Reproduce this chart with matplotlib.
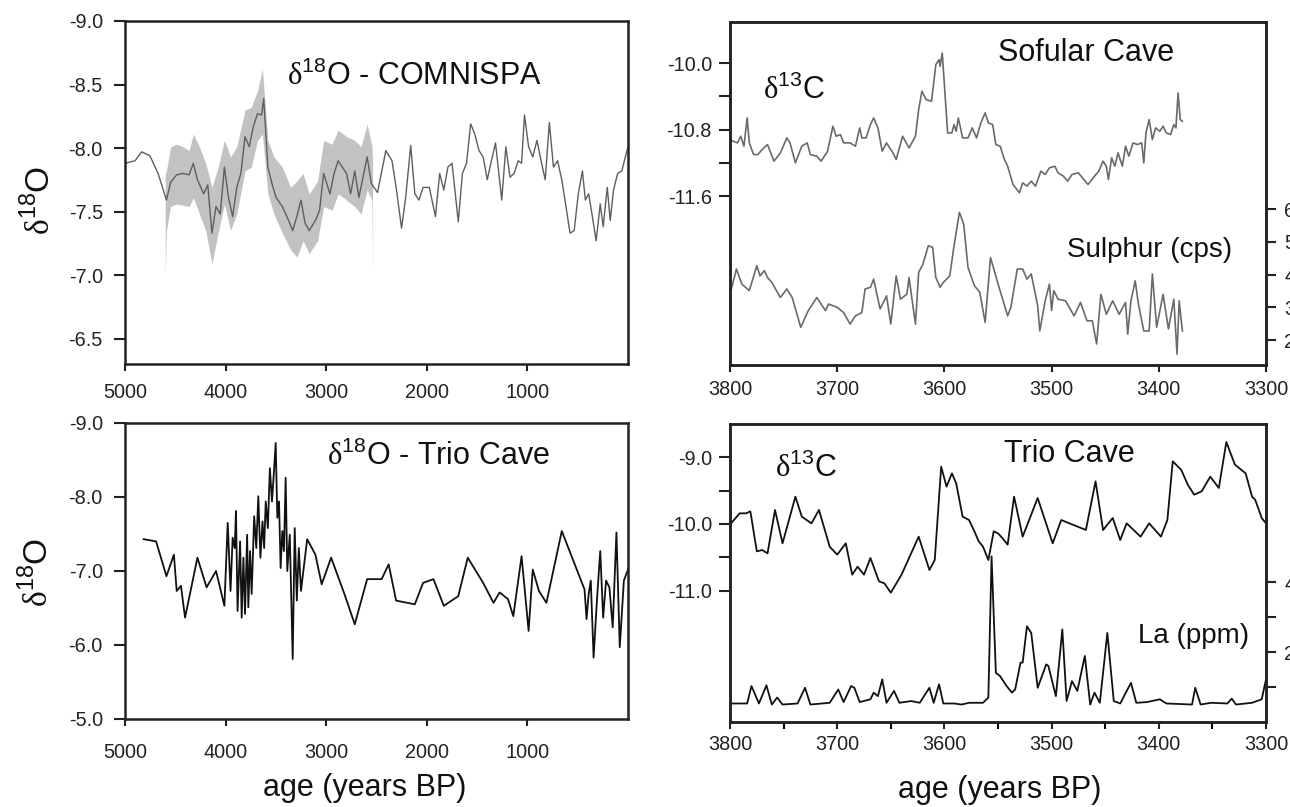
import numpy as np
import matplotlib.pyplot as plt

plt.rcParams['font.family'] = ['Liberation Sans', 'DejaVu Sans']
plt.rcParams['mathtext.fontset'] = 'custom'
plt.rcParams['mathtext.rm'] = 'Liberation Serif'
plt.rcParams['mathtext.sf'] = 'Liberation Sans'
plt.rcParams['axes.unicode_minus'] = False

# --- COMNISPA d18O (gray line) ---
com_age = [5000, 4900, 4835, 4753, 4671, 4588, 4547, 4486, 4424, 4362, 4321, 4280, 4218, 4177,
           4136, 4095, 4053, 4012, 3971, 3930, 3889, 3848, 3807, 3765, 3724, 3683, 3642,
           3621, 3580, 3539, 3498, 3436, 3374, 3333, 3292, 3251, 3210, 3169, 3107, 3066,
           3025, 2963, 2922, 2881, 2840, 2798, 2757, 2716, 2675, 2634, 2593, 2551, 2490,
           2407, 2346, 2305, 2251, 2210, 2160, 2119, 2078, 2037, 1975, 1914, 1872, 1831,
           1790, 1749, 1687, 1646, 1605, 1564, 1523, 1481, 1440, 1399, 1358, 1317, 1255,
           1214, 1173, 1132, 1091, 1058, 1029, 988, 947, 905, 864, 823, 782, 741, 700,
           658, 617, 576, 535, 494, 453, 424, 391, 358, 317, 276, 247, 206, 177, 144,
           103, 62, 0]
com_d18o = [-7.88, -7.90, -7.97, -7.94, -7.80, -7.59, -7.73, -7.79, -7.80, -7.79, -7.88, -7.75,
            -7.64, -7.71, -7.33, -7.54, -7.48, -7.85, -7.61, -7.46, -7.69, -7.80, -8.09,
            -8.01, -8.17, -8.27, -8.26, -8.39, -7.85, -7.72, -7.61, -7.54, -7.43, -7.35,
            -7.46, -7.59, -7.41, -7.35, -7.43, -7.51, -7.80, -7.64, -7.80, -7.90, -7.85,
            -7.80, -7.64, -7.82, -7.61, -7.77, -7.93, -7.72, -7.65, -7.98, -7.90, -7.69,
            -7.37, -7.61, -8.02, -7.64, -7.59, -7.69, -7.69, -7.46, -7.80, -7.67, -7.85,
            -7.88, -7.42, -7.80, -7.88, -8.19, -8.11, -7.98, -7.93, -7.75, -7.90, -8.04,
            -7.59, -8.01, -7.77, -7.80, -7.90, -7.88, -8.26, -8.01, -7.93, -8.06, -7.90,
            -7.75, -8.20, -7.85, -7.90, -7.75, -7.54, -7.33, -7.35, -7.64, -7.82, -7.59,
            -7.64, -7.48, -7.27, -7.56, -7.38, -7.69, -7.43, -7.67, -7.80, -7.82, -8.01]

# uncertainty envelope of COMNISPA
band_age = [4600, 4588, 4547, 4486, 4424, 4362, 4321, 4259, 4198, 4136, 4074, 4012, 3951,
            3889, 3807, 3745, 3683, 3634, 3580, 3519, 3436, 3354, 3292, 3230, 3169, 3086,
            3025, 2942, 2881, 2798, 2716, 2654, 2593, 2545, 2539]
band_hi = [-7.80, -7.82, -8.01, -8.03, -8.01, -7.98, -8.11, -8.01, -7.88, -7.69, -7.85,
           -8.06, -7.93, -8.01, -8.30, -8.32, -8.45, -8.62, -8.06, -7.93, -7.85, -7.69,
           -7.74, -7.80, -7.64, -7.74, -8.06, -8.03, -8.14, -8.09, -8.06, -8.01, -8.19,
           -8.01, -7.90]
band_lo = [-7.00, -7.35, -7.54, -7.56, -7.55, -7.54, -7.61, -7.48, -7.35, -7.09, -7.33,
           -7.56, -7.35, -7.48, -7.82, -7.85, -8.06, -8.11, -7.64, -7.48, -7.33, -7.20,
           -7.14, -7.27, -7.17, -7.27, -7.54, -7.51, -7.64, -7.59, -7.54, -7.48, -7.67,
           -7.59, -7.00]

# --- Sofular Cave d13C and Sulphur ---
sof_age = [3800, 3797, 3793, 3790, 3787, 3784, 3782, 3778, 3774, 3770, 3765, 3759, 3753,
           3747, 3744, 3739, 3733, 3728, 3725, 3719, 3715, 3709, 3704, 3701, 3697, 3694,
           3688, 3683, 3679, 3677, 3673, 3669, 3666, 3662, 3658, 3654, 3648, 3645, 3639,
           3633, 3627, 3624, 3621, 3617, 3612, 3608, 3605, 3604, 3602, 3600, 3597, 3593,
           3591, 3589, 3587, 3583, 3578, 3574, 3570, 3566, 3562, 3559, 3555, 3552, 3548,
           3544, 3541, 3536, 3530, 3527, 3523, 3519, 3515, 3510, 3506, 3502, 3497, 3494,
           3489, 3485, 3481, 3475, 3470, 3466, 3460, 3456, 3452, 3449, 3447, 3444, 3441,
           3438, 3434, 3431, 3428, 3424, 3420, 3416, 3414, 3412, 3409, 3406, 3403, 3399,
           3396, 3393, 3389, 3386, 3384, 3382, 3380, 3378]
sof_d13c = [-10.92, -10.94, -10.96, -10.88, -11.00, -10.66, -10.96, -11.10, -11.10, -11.04,
            -10.98, -11.18, -11.08, -10.90, -10.96, -11.20, -11.00, -10.96, -11.10, -11.12,
            -11.18, -11.06, -10.76, -10.88, -10.86, -10.96, -10.96, -11.00, -10.78, -10.90,
            -10.90, -10.74, -10.66, -10.78, -11.06, -10.96, -11.08, -11.16, -10.88, -11.02,
            -10.88, -10.56, -10.34, -10.44, -10.46, -10.02, -9.96, -10.04, -9.88, -10.26,
            -10.84, -10.84, -10.74, -10.82, -10.66, -10.90, -10.90, -10.78, -10.90, -10.72,
            -10.60, -10.72, -10.74, -10.98, -11.00, -11.16, -11.24, -11.46, -11.56, -11.44,
            -11.48, -11.42, -11.48, -11.30, -11.34, -11.26, -11.24, -11.32, -11.36, -11.42,
            -11.34, -11.32, -11.40, -11.46, -11.36, -11.30, -11.18, -11.24, -11.40, -11.14,
            -11.24, -11.08, -11.24, -11.00, -11.12, -10.96, -10.98, -10.96, -11.20, -10.84,
            -10.68, -10.92, -10.78, -10.82, -10.76, -10.84, -10.86, -10.74, -10.78, -10.36,
            -10.68, -10.70]

sul_age = [3800, 3794, 3789, 3782, 3775, 3772, 3768, 3765, 3761, 3753, 3747, 3742, 3734,
           3727, 3719, 3711, 3708, 3700, 3694, 3688, 3683, 3677, 3674, 3669, 3666, 3660,
           3654, 3650, 3645, 3641, 3635, 3633, 3627, 3624, 3620, 3615, 3611, 3608, 3604,
           3601, 3595, 3591, 3586, 3582, 3578, 3572, 3567, 3562, 3557, 3549, 3541, 3538,
           3532, 3527, 3523, 3519, 3513, 3511, 3506, 3502, 3500, 3498, 3494, 3487, 3479,
           3473, 3467, 3462, 3458, 3454, 3449, 3443, 3437, 3431, 3429, 3426, 3422, 3419,
           3414, 3409, 3406, 3402, 3396, 3391, 3386, 3383, 3381, 3378]
sul_cps = [3.40, 4.17, 3.71, 3.51, 4.27, 3.96, 4.12, 3.91, 3.76, 3.30, 3.56, 3.30, 2.39,
           2.90, 3.30, 2.90, 3.10, 3.00, 2.84, 2.49, 2.74, 2.84, 3.56, 3.61, 3.86, 2.95,
           3.35, 2.49, 3.96, 3.25, 3.40, 3.91, 2.49, 4.07, 4.32, 4.88, 4.83, 3.91, 3.61,
           3.76, 3.96, 4.88, 5.90, 5.54, 4.22, 3.66, 3.46, 2.54, 4.52, 3.61, 2.74, 3.00,
           4.17, 4.17, 3.86, 4.02, 3.05, 2.28, 3.20, 3.71, 2.90, 3.51, 3.25, 3.20, 2.74,
           3.15, 2.59, 2.59, 1.88, 3.40, 2.79, 3.20, 2.79, 3.15, 2.18, 3.20, 3.81, 3.10,
           2.28, 2.28, 4.02, 2.39, 3.40, 2.34, 3.25, 1.57, 3.20, 2.28]

# --- Trio Cave d18O ---
trio_age = [4815, 4691, 4588, 4514, 4486, 4444, 4403, 4280, 4189, 4095, 4012, 3979, 3951,
            3930, 3909, 3897, 3881, 3856, 3840, 3823, 3807, 3786, 3774, 3757, 3741, 3716,
            3695, 3675, 3654, 3633, 3617, 3601, 3580, 3560, 3539, 3519, 3502, 3486, 3469,
            3453, 3436, 3420, 3403, 3387, 3362, 3333, 3313, 3292, 3272, 3251, 3189, 3107,
            3045, 2951, 2819, 2716, 2593, 2449, 2379, 2305, 2119, 2037, 1934, 1831, 1687,
            1593, 1440, 1337, 1276, 1193, 1140, 1058, 988, 947, 885, 811, 658, 432, 412,
            391, 370, 342, 309, 276, 247, 218, 185, 152, 115, 82, 41, 0]
trio_d18o = [-7.43, -7.40, -6.93, -7.22, -6.73, -6.80, -6.37, -7.18, -6.78, -7.00, -6.53,
             -7.65, -6.73, -7.45, -7.31, -7.81, -6.46, -7.40, -6.37, -7.18, -6.42, -7.49,
             -6.51, -7.27, -6.69, -7.74, -7.31, -8.01, -7.18, -7.67, -7.31, -7.94, -7.58,
             -8.39, -7.94, -8.35, -8.73, -7.72, -7.94, -7.04, -7.54, -7.27, -8.26, -7.00,
             -7.49, -5.81, -7.58, -6.60, -7.31, -6.73, -7.43, -7.22, -6.82, -7.18, -6.69,
             -6.28, -6.89, -6.89, -7.09, -6.60, -6.55, -6.84, -6.89, -6.53, -6.66, -7.18,
             -6.84, -6.57, -6.71, -6.62, -6.39, -7.20, -6.19, -7.02, -6.73, -6.57, -7.54,
             -6.75, -6.35, -6.69, -6.87, -5.83, -6.60, -7.27, -6.37, -6.87, -6.78, -6.24,
             -7.52, -5.97, -6.87, -7.02]

# --- Trio Cave d13C and La ---
tc_age = [3799, 3791, 3785, 3781, 3775, 3770, 3765, 3758, 3751, 3745, 3739, 3733, 3724,
          3717, 3707, 3700, 3692, 3686, 3681, 3675, 3669, 3661, 3656, 3650, 3640, 3624,
          3614, 3609, 3603, 3598, 3593, 3589, 3583, 3577, 3572, 3568, 3564, 3559, 3554,
          3550, 3546, 3541, 3535, 3527, 3513, 3499, 3491, 3468, 3459, 3452, 3443, 3436,
          3430, 3417, 3409, 3398, 3392, 3387, 3379, 3373, 3367, 3360, 3352, 3344, 3337,
          3329, 3319, 3313, 3310, 3304, 3300]
tc_d13c = [-9.99, -9.84, -9.84, -9.81, -10.41, -10.39, -10.44, -9.79, -10.29, -9.94, -9.59,
           -9.89, -9.99, -9.79, -10.34, -10.46, -10.29, -10.76, -10.64, -10.76, -10.51,
           -10.86, -10.89, -11.03, -10.76, -10.19, -10.69, -10.54, -9.14, -9.44, -9.24,
           -9.39, -9.89, -9.94, -10.11, -10.26, -10.34, -10.54, -10.11, -10.14, -10.21,
           -10.31, -9.59, -10.19, -9.61, -10.29, -9.94, -10.09, -9.36, -10.09, -9.91,
           -10.24, -9.99, -10.19, -9.99, -10.19, -9.94, -9.06, -9.19, -9.41, -9.56, -9.51,
           -9.29, -9.46, -8.77, -9.11, -9.24, -9.59, -9.64, -9.91, -9.99]

la_age = [3800, 3784, 3780, 3773, 3766, 3761, 3756, 3751, 3737, 3730, 3725, 3707, 3699,
          3694, 3687, 3684, 3679, 3669, 3666, 3662, 3658, 3654, 3647, 3642, 3631, 3623,
          3614, 3610, 3605, 3601, 3591, 3584, 3577, 3564, 3559, 3556, 3552, 3548, 3542,
          3537, 3534, 3529, 3527, 3523, 3519, 3513, 3505, 3503, 3496, 3490, 3486, 3481,
          3476, 3469, 3464, 3460, 3455, 3448, 3442, 3436, 3426, 3421, 3411, 3399, 3393,
          3369, 3366, 3361, 3351, 3336, 3332, 3328, 3313, 3304, 3300]
la_ppm = [0.53, 0.53, 1.03, 0.53, 1.05, 0.50, 0.70, 0.50, 0.53, 0.98, 0.50, 0.55, 0.93,
          0.57, 1.03, 0.98, 0.57, 0.65, 0.84, 0.74, 1.22, 0.55, 0.89, 0.55, 0.60, 0.55,
          0.98, 0.55, 1.08, 0.53, 0.53, 0.50, 0.55, 0.55, 0.70, 4.74, 1.41, 1.31, 1.03,
          0.84, 0.93, 1.70, 1.70, 2.74, 2.55, 0.98, 1.65, 1.60, 0.74, 2.65, 0.60, 1.17,
          0.89, 1.89, 0.50, 0.84, 0.55, 2.55, 0.60, 0.53, 1.12, 0.55, 0.57, 0.65, 0.53,
          0.50, 0.98, 0.50, 0.55, 0.53, 0.67, 0.50, 0.55, 0.65, 1.22]

W, H = 1290, 807
fig = plt.figure(figsize=(W / 100, H / 100), dpi=100)


def box(l, t, r, b):
    return [l / W, 1 - b / H, (r - l) / W, (b - t) / H]


D18 = r'$\mathrm{\delta}^{\mathsf{18}}$O'
D13 = r'$\mathrm{\delta}^{\mathsf{13}}$C'
TK = 14.3
TXT = 22
INK = '#111111'


def style(ax, xpad, ypad):
    for s in ax.spines.values():
        s.set_linewidth(1.8)
        s.set_color('#222222')
    ax.tick_params(axis='y', direction='out', length=8, width=1.5, labelsize=TK,
                   pad=ypad, colors='#222222')
    ax.tick_params(axis='x', direction='out', length=5, width=1.5, labelsize=TK,
                   pad=xpad, colors='#222222')


# top-left: COMNISPA
ax1 = fig.add_axes(box(125, 21, 628, 364))
ax1.fill_between(band_age, band_lo, band_hi, color='#c2c2c2', lw=0)
ax1.plot(com_age, com_d18o, color='#5e5e5e', lw=1.0)
ax1.set_xlim(5000, 0)
ax1.set_ylim(-6.3, -9.0)
ax1.set_xticks([5000, 4000, 3000, 2000, 1000])
ax1.set_xticklabels(['5000', '4000', '3000', '2000', '1000'])
ax1.set_yticks([-9.0, -8.5, -8.0, -7.5, -7.0, -6.5])
ax1.set_yticklabels(['-9.0', '-8.5', '-8.0', '-7.5', '-7.0', '-6.5'])
style(ax1, 9, 8)
ax1.text(0.575, 0.84, D18 + ' - COMNISPA', transform=ax1.transAxes, fontsize=TXT,
         ha='center', va='center', color=INK)

# top-right: Sofular Cave
ax2 = fig.add_axes(box(730, 22, 1266, 365))
ax2.plot(sof_age, sof_d13c, color='#6a6a6a', lw=1.2)
ax2.set_xlim(3800, 3300)
ax2.set_ylim(-13.63, -9.507)
ax2.set_xticks([3800, 3700, 3600, 3500, 3400, 3300])
ax2.set_xticklabels(['3800', '3700', '3600', '3500', '3400', '3300'])
ax2.set_yticks([-10.0, -10.4, -10.8, -11.2, -11.6])
ax2.set_yticklabels(['-10.0', '', '-10.8', '', '-11.6'])
style(ax2, 6, 5)
ax2r = ax2.twinx()
ax2r.plot(sul_age, sul_cps, color='#6a6a6a', lw=1.2)
ax2r.set_ylim(1.24, 11.71)
ax2r.set_yticks([2, 3, 4, 5, 6])
ax2r.set_yticklabels(['2', '3', '4', '5', '6'])
style(ax2r, 6, 6)
ax2r.tick_params(axis='y', length=7)
ax2.text(0.665, 0.91, 'Sofular Cave', transform=ax2.transAxes, fontsize=TXT,
         ha='center', va='center', color=INK)
ax2.text(0.12, 0.80, D13, transform=ax2.transAxes, fontsize=TXT,
         ha='center', va='center', color=INK)
ax2.text(0.783, 0.335, 'Sulphur (cps)', transform=ax2.transAxes, fontsize=20,
         ha='center', va='center', color=INK)

# bottom-left: Trio Cave d18O
ax3 = fig.add_axes(box(125, 423, 628, 719))
ax3.plot(trio_age, trio_d18o, color=INK, lw=1.3)
ax3.set_xlim(5000, 0)
ax3.set_ylim(-5.0, -9.0)
ax3.set_xticks([5000, 4000, 3000, 2000, 1000])
ax3.set_xticklabels(['5000', '4000', '3000', '2000', '1000'])
ax3.set_yticks([-9.0, -8.0, -7.0, -6.0, -5.0])
ax3.set_yticklabels(['-9.0', '-8.0', '-7.0', '-6.0', '-5.0'])
style(ax3, 12, 8)
ax3.text(0.623, 0.888, D18 + ' - Trio Cave', transform=ax3.transAxes, fontsize=TXT,
         ha='center', va='center', color=INK)

# bottom-right: Trio Cave d13C and La
ax4 = fig.add_axes(box(730, 424, 1266, 722))
ax4.plot(tc_age, tc_d13c, color=INK, lw=1.3)
ax4.set_xlim(3800, 3300)
ax4.set_ylim(-12.97, -8.50)
ax4.set_xticks([3800, 3700, 3600, 3500, 3400, 3300])
ax4.set_xticklabels(['3800', '3700', '3600', '3500', '3400', '3300'])
ax4.set_xticks([3750, 3650, 3550, 3450, 3350], minor=True)
ax4.set_yticks([-9.0, -9.5, -10.0, -10.5, -11.0])
ax4.set_yticklabels(['-9.0', '', '-10.0', '', '-11.0'])
style(ax4, 4, 5)
ax4.tick_params(axis='x', which='minor', direction='out', length=5, width=1.5)
ax4r = ax4.twinx()
ax4r.plot(la_age, la_ppm, color=INK, lw=1.3)
ax4r.set_ylim(0, 8.53)
ax4r.set_yticks([1, 2, 3, 4])
ax4r.set_yticklabels(['', '2', '', '4'])
style(ax4r, 4, 6)
ax4r.tick_params(axis='y', length=7)
ax4.text(0.634, 0.90, 'Trio Cave', transform=ax4.transAxes, fontsize=TXT,
         ha='center', va='center', color=INK)
ax4.text(0.142, 0.85, D13, transform=ax4.transAxes, fontsize=TXT,
         ha='center', va='center', color=INK)
ax4.text(0.865, 0.288, 'La (ppm)', transform=ax4.transAxes, fontsize=20,
         ha='center', va='center', color=INK)

# shared labels
fig.text(40 / W, 1 - 200 / H, D18, rotation=90, fontsize=24, ha='center', va='center',
         color=INK)
fig.text(38 / W, 1 - 572 / H, D18, rotation=90, fontsize=24, ha='center', va='center',
         color=INK)
fig.text(365 / W, 1 - 788 / H, 'age (years BP)', fontsize=TXT, ha='center', va='center',
         color=INK)
fig.text(1000 / W, 1 - 790 / H, 'age (years BP)', fontsize=TXT, ha='center', va='center',
         color=INK)

fig.savefig('out.png', dpi=100, facecolor='white')
